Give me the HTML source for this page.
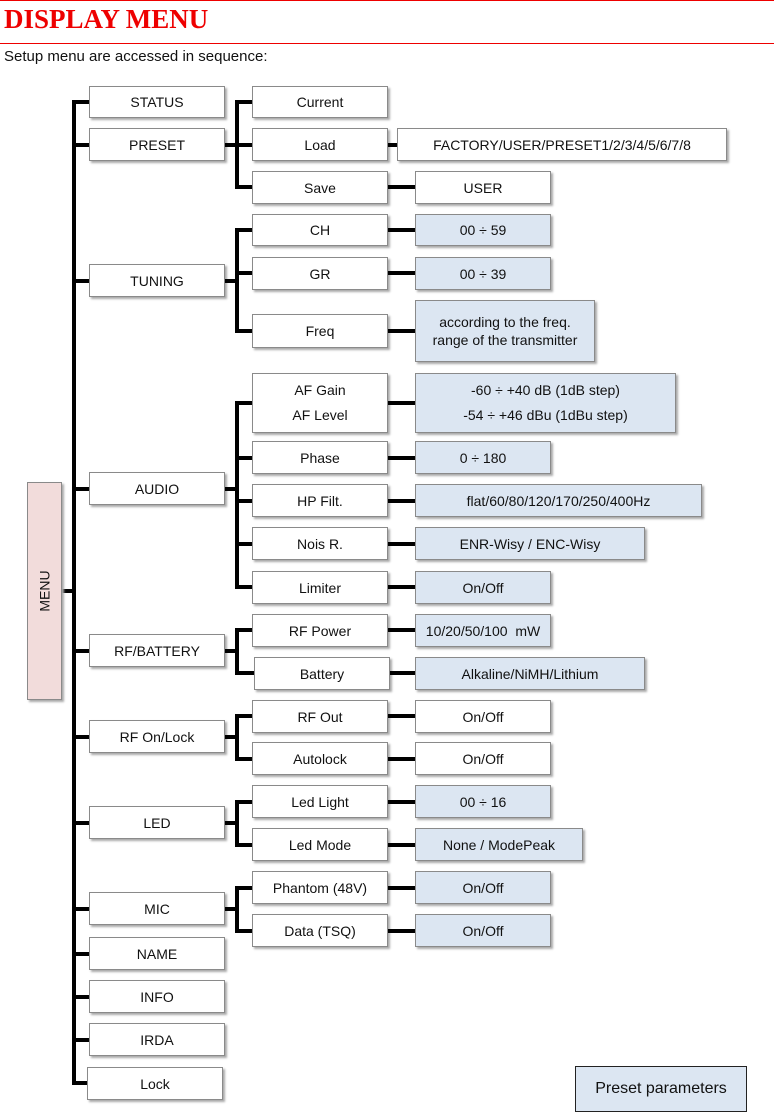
<!DOCTYPE html>
<html><head><meta charset="utf-8"><style>
body{margin:0;width:774px;height:1113px;position:relative;background:#fff;font-family:"Liberation Sans",sans-serif;overflow:hidden}
.b{position:absolute;box-sizing:border-box;border:1px solid #8a8a8a;background:#fff;box-shadow:2px 2px 2px #aaa;font-size:14px;color:#111;display:flex;align-items:center;justify-content:center;text-align:center;line-height:18px}
.v{background:#dce6f2}
.l{position:absolute;background:#000}
</style></head><body>
<div style="position:absolute;left:0;top:0;width:774px;height:1px;background:#e00"></div>
<div style="position:absolute;left:4px;top:4px;font-family:'Liberation Serif',serif;font-weight:bold;font-size:27px;color:#e00">DISPLAY MENU</div>
<div style="position:absolute;left:0;top:43px;width:774px;height:1px;background:#e00"></div>
<div style="position:absolute;left:4px;top:48px;font-size:15px;color:#111">Setup menu are accessed in sequence:</div>

<!-- main trunk -->
<div class="l" style="left:72px;top:100px;width:4px;height:985px"></div>
<div class="l" style="left:62px;top:589px;width:12px;height:4px"></div>
<div class="b" style="left:27px;top:482px;width:35px;height:218px;background:#f2dcdb"><span style="transform:rotate(-90deg);white-space:nowrap">MENU</span></div>

<!-- level1 stubs -->
<div class="l" style="left:72px;top:100px;width:17px;height:4px"></div>
<div class="l" style="left:72px;top:143px;width:17px;height:4px"></div>
<div class="l" style="left:72px;top:279px;width:17px;height:4px"></div>
<div class="l" style="left:72px;top:487px;width:17px;height:4px"></div>
<div class="l" style="left:72px;top:649px;width:17px;height:4px"></div>
<div class="l" style="left:72px;top:735px;width:17px;height:4px"></div>
<div class="l" style="left:72px;top:821px;width:17px;height:4px"></div>
<div class="l" style="left:72px;top:907px;width:17px;height:4px"></div>
<div class="l" style="left:72px;top:952px;width:17px;height:4px"></div>
<div class="l" style="left:72px;top:995px;width:17px;height:4px"></div>
<div class="l" style="left:72px;top:1038px;width:17px;height:4px"></div>
<div class="l" style="left:72px;top:1081px;width:17px;height:4px"></div>

<div class="b" style="left:89px;top:86px;width:136px;height:32px">STATUS</div>
<div class="b" style="left:89px;top:128px;width:136px;height:33px">PRESET</div>
<div class="b" style="left:89px;top:264px;width:136px;height:33px">TUNING</div>
<div class="b" style="left:89px;top:472px;width:136px;height:33px">AUDIO</div>
<div class="b" style="left:89px;top:634px;width:136px;height:33px">RF/BATTERY</div>
<div class="b" style="left:89px;top:720px;width:136px;height:33px">RF On/Lock</div>
<div class="b" style="left:89px;top:806px;width:136px;height:33px">LED</div>
<div class="b" style="left:89px;top:892px;width:136px;height:33px">MIC</div>
<div class="b" style="left:89px;top:937px;width:136px;height:33px">NAME</div>
<div class="b" style="left:89px;top:980px;width:136px;height:33px">INFO</div>
<div class="b" style="left:89px;top:1023px;width:136px;height:33px">IRDA</div>
<div class="b" style="left:87px;top:1067px;width:136px;height:33px">Lock</div>

<!-- level2 branches -->
<div class="l" style="left:225px;top:143px;width:14px;height:4px"></div>
<div class="l" style="left:235px;top:100px;width:4px;height:89px"></div>
<div class="l" style="left:235px;top:100px;width:17px;height:4px"></div>
<div class="l" style="left:235px;top:143px;width:17px;height:4px"></div>
<div class="l" style="left:235px;top:185px;width:17px;height:4px"></div>

<div class="l" style="left:225px;top:279px;width:14px;height:4px"></div>
<div class="l" style="left:235px;top:228px;width:4px;height:103px"></div>
<div class="l" style="left:235px;top:228px;width:17px;height:4px"></div>
<div class="l" style="left:235px;top:271px;width:17px;height:4px"></div>
<div class="l" style="left:235px;top:329px;width:17px;height:4px"></div>

<div class="l" style="left:225px;top:487px;width:14px;height:4px"></div>
<div class="l" style="left:235px;top:401px;width:4px;height:188px"></div>
<div class="l" style="left:235px;top:401px;width:17px;height:4px"></div>
<div class="l" style="left:235px;top:456px;width:17px;height:4px"></div>
<div class="l" style="left:235px;top:499px;width:17px;height:4px"></div>
<div class="l" style="left:235px;top:542px;width:17px;height:4px"></div>
<div class="l" style="left:235px;top:585px;width:17px;height:4px"></div>

<div class="l" style="left:225px;top:649px;width:14px;height:4px"></div>
<div class="l" style="left:235px;top:628px;width:4px;height:45px"></div>
<div class="l" style="left:235px;top:628px;width:17px;height:4px"></div>
<div class="l" style="left:235px;top:671px;width:19px;height:4px"></div>

<div class="l" style="left:225px;top:735px;width:14px;height:4px"></div>
<div class="l" style="left:235px;top:714px;width:4px;height:45px"></div>
<div class="l" style="left:235px;top:714px;width:17px;height:4px"></div>
<div class="l" style="left:235px;top:757px;width:17px;height:4px"></div>

<div class="l" style="left:225px;top:821px;width:14px;height:4px"></div>
<div class="l" style="left:235px;top:800px;width:4px;height:45px"></div>
<div class="l" style="left:235px;top:800px;width:17px;height:4px"></div>
<div class="l" style="left:235px;top:843px;width:17px;height:4px"></div>

<div class="l" style="left:225px;top:907px;width:14px;height:4px"></div>
<div class="l" style="left:235px;top:886px;width:4px;height:45px"></div>
<div class="l" style="left:235px;top:886px;width:17px;height:4px"></div>
<div class="l" style="left:235px;top:929px;width:17px;height:4px"></div>

<div class="b" style="left:252px;top:86px;width:136px;height:32px">Current</div>
<div class="b" style="left:252px;top:128px;width:136px;height:33px">Load</div>
<div class="b" style="left:252px;top:171px;width:136px;height:33px">Save</div>
<div class="b" style="left:252px;top:214px;width:136px;height:32px">CH</div>
<div class="b" style="left:252px;top:257px;width:136px;height:33px">GR</div>
<div class="b" style="left:252px;top:314px;width:136px;height:34px">Freq</div>
<div class="b" style="left:252px;top:373px;width:136px;height:60px;flex-direction:column;line-height:25px">AF Gain<br>AF Level</div>
<div class="b" style="left:252px;top:441px;width:136px;height:33px">Phase</div>
<div class="b" style="left:252px;top:484px;width:136px;height:33px">HP Filt.</div>
<div class="b" style="left:252px;top:527px;width:136px;height:33px">Nois R.</div>
<div class="b" style="left:252px;top:571px;width:136px;height:33px">Limiter</div>
<div class="b" style="left:252px;top:614px;width:136px;height:33px">RF Power</div>
<div class="b" style="left:254px;top:657px;width:136px;height:33px">Battery</div>
<div class="b" style="left:252px;top:700px;width:136px;height:33px">RF Out</div>
<div class="b" style="left:252px;top:742px;width:136px;height:33px">Autolock</div>
<div class="b" style="left:252px;top:785px;width:136px;height:33px">Led Light</div>
<div class="b" style="left:252px;top:828px;width:136px;height:33px">Led Mode</div>
<div class="b" style="left:252px;top:871px;width:136px;height:33px">Phantom (48V)</div>
<div class="b" style="left:252px;top:914px;width:136px;height:33px">Data (TSQ)</div>

<!-- level3 connectors -->
<div class="l" style="left:388px;top:143px;width:9px;height:4px"></div>
<div class="l" style="left:388px;top:185px;width:27px;height:4px"></div>
<div class="l" style="left:388px;top:228px;width:27px;height:4px"></div>
<div class="l" style="left:388px;top:271px;width:27px;height:4px"></div>
<div class="l" style="left:388px;top:329px;width:27px;height:4px"></div>
<div class="l" style="left:388px;top:401px;width:27px;height:4px"></div>
<div class="l" style="left:388px;top:456px;width:27px;height:4px"></div>
<div class="l" style="left:388px;top:499px;width:27px;height:4px"></div>
<div class="l" style="left:388px;top:542px;width:27px;height:4px"></div>
<div class="l" style="left:388px;top:585px;width:27px;height:4px"></div>
<div class="l" style="left:388px;top:628px;width:27px;height:4px"></div>
<div class="l" style="left:390px;top:671px;width:25px;height:4px"></div>
<div class="l" style="left:388px;top:714px;width:27px;height:4px"></div>
<div class="l" style="left:388px;top:757px;width:27px;height:4px"></div>
<div class="l" style="left:388px;top:800px;width:27px;height:4px"></div>
<div class="l" style="left:388px;top:843px;width:27px;height:4px"></div>
<div class="l" style="left:388px;top:886px;width:27px;height:4px"></div>
<div class="l" style="left:388px;top:929px;width:27px;height:4px"></div>

<div class="b" style="left:397px;top:128px;width:330px;height:33px">FACTORY/USER/PRESET1/2/3/4/5/6/7/8</div>
<div class="b" style="left:415px;top:171px;width:136px;height:33px">USER</div>
<div class="b v" style="left:415px;top:214px;width:136px;height:32px">00 ÷ 59</div>
<div class="b v" style="left:415px;top:257px;width:136px;height:33px">00 ÷ 39</div>
<div class="b v" style="left:415px;top:300px;width:180px;height:62px">according to the freq.<br>range of the transmitter</div>
<div class="b v" style="left:415px;top:373px;width:261px;height:60px;line-height:25px">-60 ÷ +40 dB (1dB step)<br>-54 ÷ +46 dBu (1dBu step)</div>
<div class="b v" style="left:415px;top:441px;width:136px;height:33px">0 ÷ 180</div>
<div class="b v" style="left:415px;top:484px;width:287px;height:33px">flat/60/80/120/170/250/400Hz</div>
<div class="b v" style="left:415px;top:527px;width:230px;height:33px">ENR-Wisy / ENC-Wisy</div>
<div class="b v" style="left:415px;top:571px;width:136px;height:33px">On/Off</div>
<div class="b v" style="left:415px;top:614px;width:136px;height:33px">10/20/50/100&nbsp; mW</div>
<div class="b v" style="left:415px;top:657px;width:230px;height:33px">Alkaline/NiMH/Lithium</div>
<div class="b" style="left:415px;top:700px;width:136px;height:33px">On/Off</div>
<div class="b" style="left:415px;top:742px;width:136px;height:33px">On/Off</div>
<div class="b v" style="left:415px;top:785px;width:136px;height:33px">00 ÷ 16</div>
<div class="b v" style="left:415px;top:828px;width:168px;height:33px">None / ModePeak</div>
<div class="b v" style="left:415px;top:871px;width:136px;height:33px">On/Off</div>
<div class="b v" style="left:415px;top:914px;width:136px;height:33px">On/Off</div>

<div class="b v" style="left:575px;top:1066px;width:172px;height:46px;border-color:#222;box-shadow:none;font-size:16px">Preset parameters</div>
</body></html>
